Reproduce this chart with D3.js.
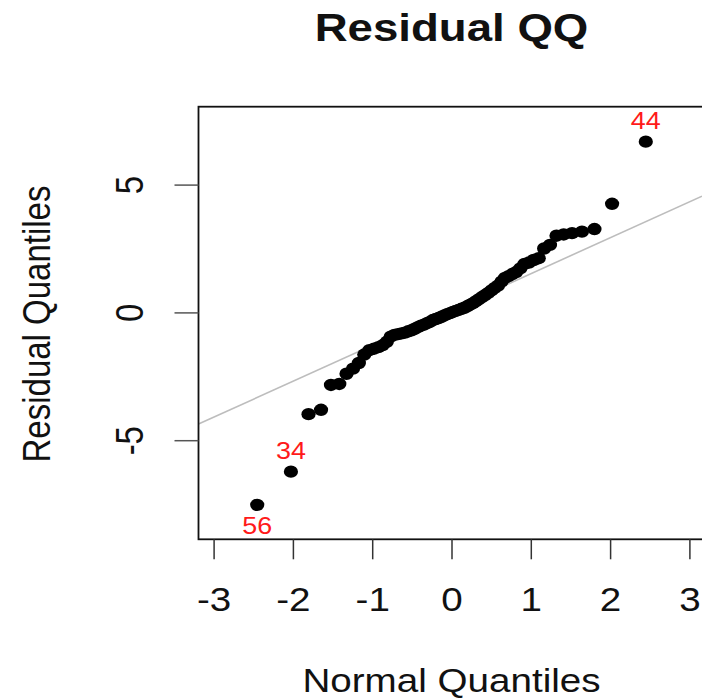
<!DOCTYPE html>
<html>
<head>
<meta charset="utf-8">
<script src="https://cdn.jsdelivr.net/npm/d3@7"></script>
<style>
  html, body { margin: 0; padding: 0; background: #fff; }
  svg { display: block; font-family: "Liberation Sans", Arial, Helvetica, sans-serif; }
</style>
</head>
<body>
<svg id="chart" width="702" height="699"></svg>
<script>
// theoretical normal quantiles (x) and sorted residuals (y)
const normalQ = [-2.450, -2.025, -1.803, -1.645, -1.520, -1.415, -1.324, -1.242, -1.168, -1.100,
  -1.036, -0.977, -0.921, -0.867, -0.816, -0.767, -0.720, -0.674, -0.630, -0.587,
  -0.545, -0.504, -0.464, -0.424, -0.385, -0.347, -0.309, -0.272, -0.235, -0.198,
  -0.162, -0.126, -0.090, -0.054, -0.018, 0.018, 0.054, 0.090, 0.126, 0.162,
  0.198, 0.235, 0.272, 0.309, 0.347, 0.385, 0.424, 0.464, 0.504, 0.545,
  0.587, 0.630, 0.674, 0.720, 0.767, 0.816, 0.867, 0.921, 0.977, 1.036,
  1.100, 1.168, 1.242, 1.324, 1.415, 1.520, 1.645, 1.803, 2.025, 2.450];

const residQ = [-7.53, -6.23, -3.98, -3.81, -2.84, -2.80, -2.40, -2.20, -1.98, -1.65,
  -1.48, -1.42, -1.36, -1.28, -1.15, -0.95, -0.88, -0.85, -0.82, -0.79,
  -0.74, -0.70, -0.64, -0.58, -0.52, -0.48, -0.42, -0.37, -0.30, -0.26,
  -0.22, -0.17, -0.12, -0.07, -0.03, 0.02, 0.06, 0.10, 0.14, 0.18,
  0.24, 0.30, 0.36, 0.44, 0.52, 0.60, 0.68, 0.76, 0.86, 0.96,
  1.05, 1.20, 1.35, 1.42, 1.50, 1.58, 1.72, 1.90, 1.95, 2.05,
  2.12, 2.50, 2.64, 3.00, 3.05, 3.10, 3.16, 3.26, 4.25, 6.68];

// labelled outliers: position in sorted order, observation id, above/below
const outlierIdx = [0, 1, 69];
const outlierText = ["56", "34", "44"];
const outlierSide = ["below", "above", "above"];

// reference line (qqline)
const lineIntercept = 0.11;
const lineSlope = 1.404;

const xTicks = [-3, -2, -1, 0, 1, 2, 3];
const yTicks = [-5, 0, 5];

const svg = d3.select("#chart");

// the picture is stretched sideways a bit, text follows that
const sx = 1.17;

const box = { left: 198.5, right: 706, top: 106.7, bottom: 539.3 };

const x = d3.scaleLinear().domain([-3, 3]).range([213.6, 689.4]);
const y = d3.scaleLinear().domain([-5, 5]).range([440.2, 184.6]);

// R prints a plain hyphen, not the unicode minus
const fmt = d => String(d);

svg.append("clipPath").attr("id", "plotclip")
  .append("rect")
  .attr("x", box.left).attr("y", box.top)
  .attr("width", box.right - box.left).attr("height", box.bottom - box.top);

// reference line
const x0 = x.invert(box.left), x1 = x.invert(702);
svg.append("line")
  .attr("clip-path", "url(#plotclip)")
  .attr("x1", x(x0)).attr("y1", y(lineIntercept + lineSlope * x0))
  .attr("x2", x(x1)).attr("y2", y(lineIntercept + lineSlope * x1))
  .attr("stroke", "#bdbdbd")
  .attr("stroke-width", 1.6);

// points
const pts = normalQ.map((q, i) => ({ q: q, r: residQ[i] }));
svg.append("g")
  .selectAll("ellipse")
  .data(pts)
  .enter()
  .append("ellipse")
  .attr("cx", d => x(d.q))
  .attr("cy", d => y(d.r))
  .attr("rx", 7.1)
  .attr("ry", 6.2)
  .attr("fill", "#000");

// outlier labels
svg.append("g")
  .selectAll("text")
  .data(outlierIdx)
  .enter()
  .append("text")
  .attr("transform", (d, i) => {
    const ty = outlierSide[i] === "above" ? y(residQ[d]) - 13 : y(residQ[d]) + 29;
    return `translate(${x(normalQ[d])},${ty}) scale(${sx},1)`;
  })
  .attr("text-anchor", "middle")
  .attr("font-size", 23)
  .attr("fill", "#ff1a1a")
  .text((d, i) => outlierText[i]);

// box
svg.append("rect")
  .attr("x", box.left).attr("y", box.top)
  .attr("width", box.right - box.left).attr("height", box.bottom - box.top)
  .attr("fill", "none")
  .attr("stroke", "#111")
  .attr("stroke-width", 1.8);

// x axis
const xAxis = svg.append("g")
  .attr("transform", `translate(0,${box.bottom})`)
  .call(d3.axisBottom(x).tickValues(xTicks).tickSize(20).tickPadding(28.6).tickSizeOuter(0)
    .tickFormat(fmt));
xAxis.select(".domain").remove();
xAxis.selectAll(".tick line").attr("stroke", "#333").attr("stroke-width", 1.5);
xAxis.selectAll(".tick text")
  .attr("font-size", 33)
  .attr("font-family", null)
  .attr("fill", "#111")
  .attr("transform", `scale(${sx},1)`);

// y axis (R style: labels parallel to the axis)
const yAxis = svg.append("g")
  .attr("transform", `translate(${box.left},0)`)
  .call(d3.axisLeft(y).tickValues(yTicks).tickSize(24).tickSizeOuter(0).tickFormat(fmt));
yAxis.select(".domain").remove();
yAxis.selectAll(".tick line").attr("stroke", "#555").attr("stroke-width", 1.5);
yAxis.selectAll(".tick text")
  .attr("x", null).attr("dy", null)
  .attr("font-size", 33)
  .attr("font-family", null)
  .attr("fill", "#111")
  .attr("text-anchor", "middle")
  .attr("transform", `translate(${143 - box.left},0) scale(${sx},1) rotate(-90)`);

// titles
svg.append("text")
  .attr("transform", `translate(451.5,40.5) scale(1.2,1)`)
  .attr("text-anchor", "middle")
  .attr("font-size", 38)
  .attr("font-weight", "bold")
  .attr("fill", "#111")
  .text("Residual QQ");

svg.append("text")
  .attr("transform", `translate(451.5,692) scale(${sx},1)`)
  .attr("text-anchor", "middle")
  .attr("font-size", 33)
  .attr("fill", "#111")
  .text("Normal Quantiles");

svg.append("text")
  .attr("transform", `translate(49.5,324) scale(${sx},1) rotate(-90)`)
  .attr("text-anchor", "middle")
  .attr("font-size", 33)
  .attr("fill", "#111")
  .text("Residual Quantiles");
</script>
</body>
</html>
